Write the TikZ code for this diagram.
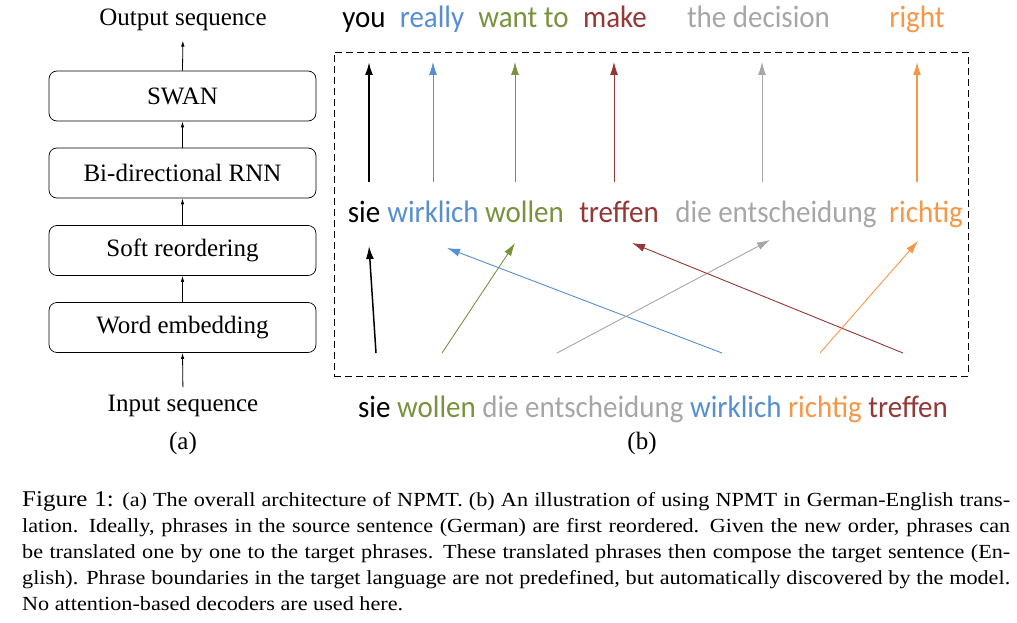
\documentclass[tikz,border=0pt]{standalone}
\usepackage{fontspec}
\setmainfont{Liberation Serif}
\newfontfamily\calfont[FakeStretch=0.935]{Carlito}
\newfontfamily\capfont[FakeStretch=1.11]{Liberation Serif}
\usetikzlibrary{positioning,arrows.meta}
\definecolor{wblue}{HTML}{558ED5}
\definecolor{wgreen}{HTML}{77933C}
\definecolor{wred}{HTML}{953735}
\definecolor{wgray}{HTML}{A6A6A6}
\definecolor{worange}{HTML}{F79646}

\begin{document}
\begin{tikzpicture}[x=1pt,y=-1pt,
    layer/.style={draw, rounded corners=8pt, minimum width=267pt, minimum height=50pt,
                  inner sep=0pt, line width=0.7pt, font=\fontsize{25}{29}\selectfont},
    seq/.style={inner sep=0pt, anchor=base, font=\fontsize{25}{29}\selectfont},
    word/.style={inner sep=0pt, anchor=base, font=\calfont\fontsize{31}{36}\selectfont},
    flow/.style={-{Latex[length=6pt,width=3.5pt]}, line width=0.8pt},
    map/.style={-{Latex[length=13pt,width=8pt]}, line width=0.9pt}]
  \useasboundingbox (0,0) rectangle (1017,623);
  % (a): architecture stack
  \foreach \name/\txt/\y in {swan/SWAN/96, rnn/Bi-directional RNN/173,
                             reord/Soft reordering/250.5, emb/Word embedding/327.5}
    {\node[layer] (\name) at (182.5,\y) {\txt};}
  \node[seq] (out) at (183,26) {Output sequence};
  \node[seq] (in) at (183,411) {Input sequence};
  \node[seq] (capa) at (183,449) {(a)};
  \draw[flow, shorten <=7pt] (in.north) -- (emb.south);
  \draw[flow] (emb.north) -- (reord.south);
  \draw[flow] (reord.north) -- (rnn.south);
  \draw[flow] (rnn.north) -- (swan.south);
  \draw[flow, shorten >=9pt] (swan.north) -- (out.south);
  % (b): reordering and translation
  \node[draw, dash pattern=on 7pt off 4pt, line width=0.8pt, minimum width=634pt,
        minimum height=324pt, inner sep=0pt] (frame) at (651,214) {};
  \foreach \n/\c/\t/\x in {1/black/you/364, 2/wblue/really/432, 3/wgreen/want to/523.5,
                           4/wred/make/615, 5/wgray/the decision/758.5, 6/worange/right/917}
    {\node[word, text=\c] (en\n) at (\x,28) {\t};}
  \foreach \n/\c/\t/\x in {1/black/sie/364, 2/wblue/wirklich/433, 3/wgreen/wollen/524.5,
                           4/wred/treffen/619, 5/wgray/die entscheidung/776, 6/worange/richtig/926}
    {\node[word, text=\c] (de\n) at (\x,222) {\t};}
  \node[word] (src) at (653,417) {sie \textcolor{wgreen}{wollen} \textcolor{wgray}{die entscheidung}
    \textcolor{wblue}{wirklich} \textcolor{worange}{richtig} \textcolor{wred}{treffen}};
  \node[seq] (capb) at (642,449) {(b)};
  % phrase-by-phrase translation
  \foreach \n/\c/\x/\w in {1/black/369/2, 2/wblue/433/0.9, 3/wgreen/515/0.9,
                           4/wred/614/0.9, 5/wgray/762/0.9, 6/worange/917/1.2}
    {\coordinate (tb\n) at (\x,182);
     \coordinate (tt\n) at (\x,62);
     \draw[map, \c, line width=\w pt] (tb\n) -- (tt\n);}
  % soft reordering
  \foreach \n/\c/\xa/\xb/\yb/\w in {1/black/376/369/246/1.5, 2/wgreen/442/515/243/0.9,
                                    3/wblue/722/447/248/0.9, 4/wgray/557/770/240/0.9,
                                    5/wred/903/632/243/0.9, 6/worange/820/918/241/0.9}
    {\coordinate (rb\n) at (\xa,353);
     \coordinate (rt\n) at (\xb,\yb);
     \draw[map, \c, line width=\w pt] (rb\n) -- (rt\n);}
  % caption
  \node[anchor=base west, inner sep=0pt, font=\capfont\fontsize{20}{26.2}\selectfont] (caption) at (22,506)
    {\parbox[t]{988pt}{{\fontsize{22.5}{26.2}\selectfont Figure 1:} (a) The overall architecture of NPMT.
     (b) An illustration of using NPMT in German-English trans-\linebreak lation. Ideally, phrases in
     the source sentence (German) are first reordered. Given the new order, phrases can\linebreak be
     translated one by one to the target phrases. These translated phrases then compose the target
     sentence (En-\linebreak glish). Phrase boundaries in the target language are not predefined, but
     automatically discovered by the model.\linebreak No attention-based decoders are used here.}};
\end{tikzpicture}
\end{document}
